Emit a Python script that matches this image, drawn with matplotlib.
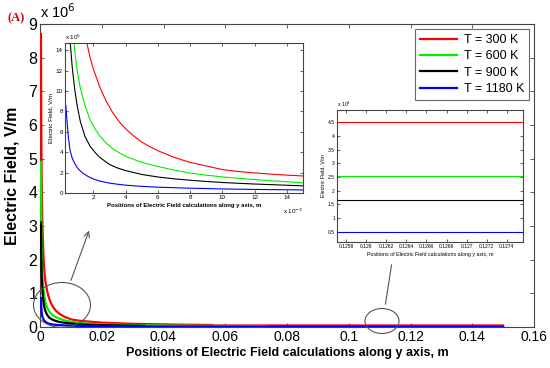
import numpy as np
import matplotlib
matplotlib.use("Agg")
import matplotlib.pyplot as plt
from matplotlib.ticker import FuncFormatter, MultipleLocator
from matplotlib.patches import Ellipse
from matplotlib.transforms import IdentityTransform

plt.rcParams['font.family'] = ['Liberation Sans', 'DejaVu Sans']

# positions in mm, field in units of 1e5 V/m
labels = ["T = 300 K", "T = 600 K", "T = 900 K", "T = 1180 K"]
colors = ["#ff0000", "#00ee00", "#000000", "#0000ff"]

x_300 = [0.3, 0.4, 0.5, 0.6, 0.8, 1.0, 1.2, 1.4, 1.56, 1.8, 2.0, 2.4, 2.8, 3.2, 3.6, 4.0, 4.5,
         5.0, 5.5, 6.0, 7.0, 8.0, 9.0, 10, 11, 12, 13, 14, 15, 20, 30, 45, 55.8, 56, 150]
e_300 = [87, 62, 48, 40, 30, 24, 19.5, 16.7, 15, 13.3, 12.2, 10.4, 9.0, 7.9, 7.0, 6.3, 5.6,
         5.0, 4.55, 4.15, 3.5, 3.0, 2.65, 2.3, 2.1, 1.97, 1.85, 1.75, 1.67, 1.3, 0.95, 0.7, 0.6, 0.45, 0.45]

x_600 = [0.3, 0.4, 0.5, 0.6, 0.7, 0.8, 1.0, 1.2, 1.5, 1.8, 2.1, 2.4, 2.8, 3.2, 3.6, 4.0,
         5.0, 6.0, 7.0, 8.0, 9.0, 10, 11, 12, 13, 14, 15, 20, 34, 50, 74]
e_600 = [49, 35, 26, 20.5, 17, 14.7, 12, 10.3, 8.5, 7.2, 6.3, 5.6, 4.9, 4.35, 3.95, 3.6,
         3.0, 2.6, 2.25, 1.95, 1.75, 1.58, 1.44, 1.32, 1.2, 1.1, 1.0, 0.8, 0.5, 0.35, 0.25]

x_900 = [0.3, 0.4, 0.5, 0.56, 0.7, 0.85, 1.0, 1.2, 1.5, 1.8, 2.1, 2.4, 3.0, 3.5, 4.0, 5.0,
         6.0, 7.0, 8.0, 9.0, 10, 11, 12, 13, 14, 15, 20, 33.6]
e_900 = [31, 22, 17, 15, 12.3, 10.2, 8.6, 7.0, 5.5, 4.6, 4.0, 3.5, 2.8, 2.45, 2.2, 1.82,
         1.57, 1.39, 1.25, 1.13, 1.03, 0.95, 0.88, 0.82, 0.76, 0.7, 0.55, 0.35]

x_1180 = [0.3, 0.35, 0.45, 0.56, 0.7, 0.85, 1.0, 1.2, 1.4, 1.7, 2.0, 2.4, 3.0, 3.5, 4.0,
          5.0, 6.0, 8.0, 10, 12, 15, 30, 150]
e_1180 = [8.6, 7.5, 5.6, 4.2, 3.4, 2.9, 2.5, 2.15, 1.9, 1.6, 1.38, 1.17, 0.97, 0.86, 0.77,
          0.65, 0.57, 0.47, 0.4, 0.35, 0.3, 0.15, 0.05]

# zoom near y = 0.1265 m, field in V/m (flat lines)
zoom_levels = [45000, 25200, 16500, 5000]

series = [(x_300, e_300), (x_600, e_600), (x_900, e_900), (x_1180, e_1180)]

W, H = 550, 368
fig = plt.figure(figsize=(5.5, 3.68), dpi=100)

def px_axes(l, t, r, b):
    return fig.add_axes([l / W, 1 - b / H, (r - l) / W, (b - t) / H])

def matlab_style(ax, size, edge="#444444"):
    ax.tick_params(direction="in", top=True, right=True, labelsize=size,
                   length=3, width=0.6, color=edge, pad=2)
    for s in ax.spines.values():
        s.set_color(edge)
        s.set_linewidth(0.8)

# main axes
ax = px_axes(40, 24, 534, 327)
for (xs, es), c, lab in zip(series, colors, labels):
    ax.plot(np.array(xs) * 1e-3, np.array(es) * 1e5, color=c, lw=1.6,
            label=lab, zorder=3)
ax.set_xlim(0, 0.16)
ax.set_ylim(0, 9e6)
ax.xaxis.set_major_locator(MultipleLocator(0.02))
ax.yaxis.set_major_locator(MultipleLocator(1e6))
ax.xaxis.set_major_formatter(FuncFormatter(lambda v, p: f"{v:g}"))
ax.yaxis.set_major_formatter(FuncFormatter(lambda v, p: f"{v / 1e6:g}"))
matlab_style(ax, 10)
ax.tick_params(axis="y", labelsize=11.5)
ax.set_xlabel("Positions of Electric Field calculations along y axis, m",
              fontsize=9, fontweight="bold", labelpad=2)
ax.set_ylabel("Electric Field, V/m", fontsize=11.5, fontweight="bold", labelpad=6)
ax.text(0, 1.01, r"x 10$^{6}$", transform=ax.transAxes, fontsize=10.5,
        ha="left", va="bottom")
leg = ax.legend(loc="upper right", fontsize=9, frameon=True, fancybox=False,
                edgecolor="#444444", handlelength=3.0, labelspacing=0.35,
                borderaxespad=0.4, borderpad=0.4, handletextpad=0.5)
leg.get_frame().set_linewidth(0.8)

# inset 1: near the origin
ax1 = px_axes(65, 43, 303, 193)
for (xs, es), c in zip(series, colors):
    ax1.plot(np.array(xs) * 1e-3, np.array(es) * 1e5, color=c, lw=0.8)
ax1.set_xlim(0.25e-3, 15e-3)
ax1.set_ylim(0, 14.7e5)
ax1.xaxis.set_major_locator(MultipleLocator(2e-3))
ax1.yaxis.set_major_locator(MultipleLocator(2e5))
ax1.xaxis.set_major_formatter(FuncFormatter(lambda v, p: f"{v * 1e3:g}"))
ax1.yaxis.set_major_formatter(FuncFormatter(lambda v, p: f"{v / 1e5:g}"))
matlab_style(ax1, 4.5)
ax1.tick_params(length=2, pad=1.5)
ax1.set_xlabel("Positions of Electric Field calculations along y axis, m",
               fontsize=4.3, fontweight="bold", labelpad=2)
ax1.set_ylabel("Electric Field, V/m", fontsize=4.5, labelpad=2)
ax1.text(0, 1.01, r"x 10$^{5}$", transform=ax1.transAxes, fontsize=4.5,
         ha="left", va="bottom")
ax1.text(1.0, -0.09, r"x 10$^{-3}$", transform=ax1.transAxes, fontsize=4.5,
         ha="right", va="top")

# inset 2: far region
ax2 = px_axes(337, 110, 523, 242)
for lvl, c in zip(zoom_levels, colors):
    ax2.axhline(lvl, color=c, lw=0.8)
ax2.set_xlim(0.12571, 0.12756)
ax2.set_ylim(1200, 49500)
ax2.xaxis.set_major_locator(MultipleLocator(0.0002))
ax2.yaxis.set_major_locator(MultipleLocator(5000))
ax2.xaxis.set_major_formatter(FuncFormatter(lambda v, p: f"{v:g}"))
ax2.yaxis.set_major_formatter(FuncFormatter(lambda v, p: f"{v / 1e4:g}"))
matlab_style(ax2, 3.6)
ax2.tick_params(length=2, pad=1.5)
ax2.set_xlabel("Positions of Electric Field calculations along y axis, m",
               fontsize=3.8, labelpad=2)
ax2.set_ylabel("Electric Field, V/m", fontsize=3.8, labelpad=2)
ax2.text(0, 1.01, r"x 10$^{4}$", transform=ax2.transAxes, fontsize=3.8,
         ha="left", va="bottom")

# callout ellipses and arrows (figure pixels)
ann = "#555555"
fig.add_artist(Ellipse((62, H - 305), 57, 45, fill=False, ec=ann, lw=0.8,
                       transform=IdentityTransform()))
fig.add_artist(Ellipse((382, H - 321), 34, 25, fill=False, ec=ann, lw=0.8,
                       transform=IdentityTransform()))
ax.annotate("", xy=(90, H - 228), xytext=(70, H - 283), xycoords="figure pixels",
            textcoords="figure pixels",
            arrowprops=dict(arrowstyle="->", color=ann, lw=0.8))
ax.annotate("", xy=(392, H - 262), xytext=(385, H - 307), xycoords="figure pixels",
            textcoords="figure pixels",
            arrowprops=dict(arrowstyle="-", color=ann, lw=0.8))

fig.text(8 / W, 1 - 18 / H, "(A)", color="#dd0000", fontsize=9, fontweight="bold",
         family=["Liberation Serif", "DejaVu Serif"], ha="left", va="center")

fig.savefig("out.png", dpi=100)
